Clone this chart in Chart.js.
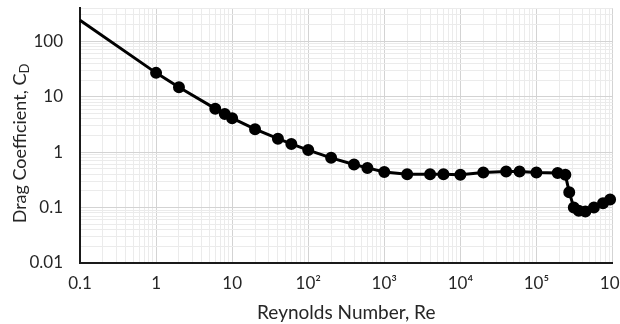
<!DOCTYPE html>
<html>
<head>
<meta charset="utf-8">
<script src="https://cdn.jsdelivr.net/npm/chart.js@4"></script>
<style>
  body { margin: 0; background: #fff; }
  #wrap { width: 620px; height: 324px; }
</style>
</head>
<body>
<div id="wrap"><canvas id="dragChart"></canvas></div>
<script>
// values (sphere drag)
const reynolds = [0.1, 1, 2, 6, 8, 10, 20, 40, 60, 100, 200, 400, 600, 1000, 2000, 4000, 6000,
  10000, 20000, 40000, 60000, 100000, 190000, 240000, 270000, 310000, 360000, 440000,
  570000, 750000, 930000];
const dragCoef = [240, 27, 14.8, 6.1, 4.9, 4.1, 2.6, 1.75, 1.41, 1.09, 0.79, 0.60, 0.52, 0.44, 0.40,
  0.40, 0.40, 0.39, 0.43, 0.45, 0.45, 0.43, 0.42, 0.39, 0.19, 0.10, 0.088, 0.085,
  0.10, 0.12, 0.14];

const xTickLabels = { 0.1: '0.1', 1: '1', 10: '10', 100: '10²', 1000: '10³', 10000: '10⁴', 100000: '10⁵', 1000000: '10⁶' };
const yTickLabels = { 0.01: '0.01', 0.1: '0.1', 1: '1', 10: '10', 100: '100' };

const FONT = 'Lato, "Open Sans", sans-serif';

function isPow10(v) {
  const l = Math.log10(v);
  return Math.abs(l - Math.round(l)) < 1e-9;
}

// 1..9 x 10^n ticks between min and max
function logTicks(min, max) {
  const out = [];
  for (let e = Math.floor(Math.log10(min)); e <= Math.ceil(Math.log10(max)); e++) {
    for (let m = 1; m < 10; m++) {
      const v = Number((m * Math.pow(10, e)).toPrecision(3));
      if (v >= min - 1e-12 && v <= max + 1e-9) out.push({ value: v, major: m === 1 });
    }
  }
  return out;
}

const gridColor = (ctx) => (ctx.tick && isPow10(ctx.tick.value)) ? '#d3d3d3' : '#ebebeb';

const yTitlePlugin = {
  id: 'yTitle',
  afterDraw(chart) {
    const c = chart.ctx;
    const area = chart.chartArea;
    const main = 'Drag Coefficient, C';
    c.save();
    c.font = '18px ' + FONT;
    const w1 = c.measureText(main).width;
    c.font = '13px ' + FONT;
    const w2 = c.measureText('D').width;
    const total = w1 + w2;
    c.translate(20, (area.top + area.bottom) / 2 + 8);
    c.rotate(-Math.PI / 2);
    c.fillStyle = '#262626';
    c.textBaseline = 'middle';
    c.textAlign = 'left';
    c.font = '18px ' + FONT;
    c.fillText(main, -total / 2, 0);
    c.font = '13px ' + FONT;
    c.fillText('D', -total / 2 + w1, 5);
    c.restore();
  }
};

new Chart(document.getElementById('dragChart'), {
  type: 'scatter',
  data: {
    datasets: [{
      data: reynolds.map((re, i) => ({ x: re, y: dragCoef[i] })),
      showLine: true,
      borderColor: '#000',
      backgroundColor: '#000',
      borderWidth: 3,
      tension: 0,
      pointRadius: reynolds.map((re, i) => i === 0 ? 0 : 4.5),
      pointHoverRadius: 4.5,
      clip: false
    }]
  },
  options: {
    responsive: true,
    maintainAspectRatio: false,
    animation: false,
    layout: { padding: { top: 8, right: 6, left: 0, bottom: 0 } },
    plugins: {
      legend: { display: false },
      tooltip: { enabled: false }
    },
    scales: {
      x: {
        type: 'logarithmic',
        min: 0.1,
        max: 1000000,
        afterBuildTicks: (scale) => { scale.ticks = logTicks(0.1, 1000000); },
        afterFit: (scale) => { scale.height = 61; scale.paddingLeft = 0; scale.paddingRight = 0; },
        grid: { color: gridColor, lineWidth: 1, drawTicks: false },
        border: { display: true, color: '#1a1a1a', width: 2 },
        ticks: {
          autoSkip: false,
          maxRotation: 0,
          padding: 10,
          color: '#262626',
          font: { family: FONT, size: 17 },
          callback: (v) => isPow10(v) ? (xTickLabels[v] || '') : ''
        },
        title: {
          display: true,
          text: 'Reynolds Number, Re',
          color: '#262626',
          font: { family: FONT, size: 19 },
          padding: { top: 1, bottom: 0 }
        }
      },
      y: {
        type: 'logarithmic',
        min: 0.01,
        max: 400,
        afterBuildTicks: (scale) => { scale.ticks = logTicks(0.01, 400); },
        afterFit: (scale) => { scale.width = 80; scale.paddingTop = 0; scale.paddingBottom = 0; },
        grid: { color: gridColor, lineWidth: 1, drawTicks: false },
        border: { display: true, color: '#1a1a1a', width: 2 },
        ticks: {
          autoSkip: false,
          padding: 17,
          color: '#262626',
          font: { family: FONT, size: 17 },
          callback: (v) => isPow10(v) ? (yTickLabels[v] || '') : ''
        }
      }
    }
  },
  plugins: [yTitlePlugin]
});
</script>
</body>
</html>
